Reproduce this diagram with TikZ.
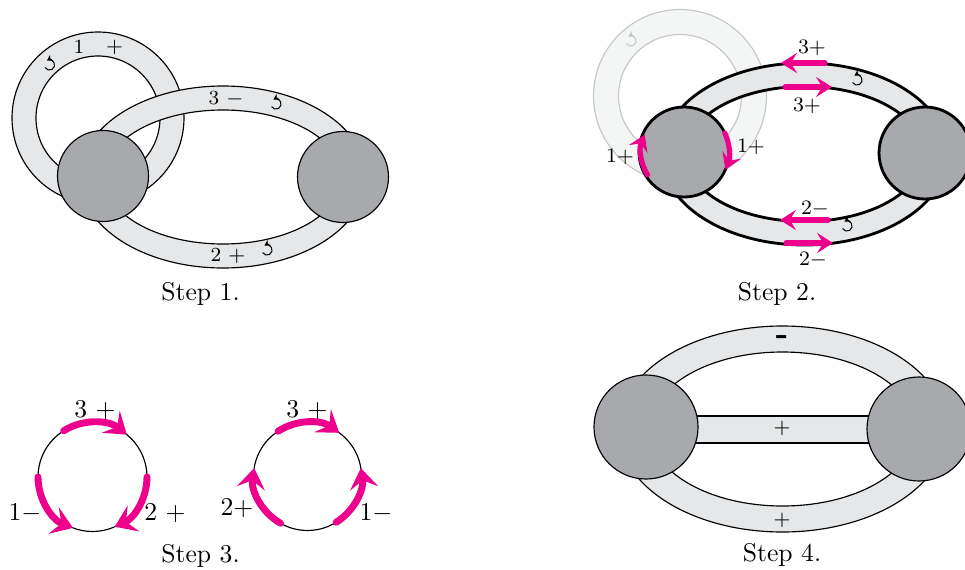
\documentclass[tikz,border=0pt]{standalone}
\usetikzlibrary{arrows.meta}
\definecolor{diskgray}{HTML}{A7A9AC}
\definecolor{bandgray}{HTML}{E6E7E8}
\definecolor{fadefill}{HTML}{F4F5F5}
\definecolor{fadeline}{HTML}{C6C8C8}
\definecolor{mag}{HTML}{EC008C}
\begin{document}
\begin{tikzpicture}[x=0.39pt,y=-0.39pt,
  thinl/.style={line width=0.45pt,draw=black},
  thickl/.style={line width=1.1pt,draw=black},
  band/.style={fill=bandgray,even odd rule},
  disk/.style={fill=diskgray},
  lab/.style={inner sep=0pt,font=\fontsize{7.8}{9}\selectfont},
  labb/.style={inner sep=0pt,font=\fontsize{8}{9.6}\selectfont},
  labc/.style={inner sep=0pt,font=\fontsize{10}{12}\selectfont},
  capt/.style={inner sep=0pt,font=\fontsize{10}{12}\selectfont},
  magA/.style={draw=mag,line width=2pt,line cap=round,-{Stealth[length=6.2pt,width=7.8pt,inset=2.4pt]}},
  magB/.style={draw=mag,line width=2.7pt,line cap=round,-{Stealth[length=8pt,width=11pt,inset=3.2pt]}},
  rotsym/.pic={\draw[line width=0.4pt,-{Stealth[length=2.2pt,width=2.6pt]}] (-150:2pt) arc[start angle=-150,end angle=120,radius=2pt];},
]
\useasboundingbox (0,0) rectangle (965,569);

% ---------- Step 1 ----------
\fill[band] (98,118) circle (86) (98,118) circle (62);
\draw[thinl] (98,118) circle (86) (98,118) circle (62);
\fill[band] (223,177) ellipse [x radius=143,y radius=91] (223,177) ellipse [x radius=119,y radius=67];
\draw[thinl] (223,177) ellipse [x radius=143,y radius=91] (223,177) ellipse [x radius=119,y radius=67];
\filldraw[disk,thinl] (103,176) circle (45.5);
\filldraw[disk,thinl] (343,177) circle (45.5);
\node[lab] (s1one) at (79,47) {1};
\node[lab] (s1plus) at (114.5,47) {$+$};
\node[lab] (s1three) at (226,99) {3 $-$};
\node[lab] (s1two) at (228,256) {2 $+$};
\pic at (49.5,65) {rotsym};
\pic at (276,104) {rotsym};
\pic at (267,250) {rotsym};
\node[capt] (cap1) at (200.5,294) {Step 1.};

% ---------- Step 2 ----------
\fill[fill=fadefill,even odd rule] (680,96) circle (86.5) (680,96) circle (61.5);
\draw[draw=fadeline,line width=0.45pt] (680,96) circle (86.5) (680,96) circle (61.5);
\pic[color=fadeline] at (631,41) {rotsym};
\fill[band] (804.5,154) ellipse [x radius=143,y radius=91] (804.5,154) ellipse [x radius=119,y radius=67.5];
\draw[thickl] (804.5,154) ellipse [x radius=143,y radius=91] (804.5,154) ellipse [x radius=119,y radius=67.5];
\filldraw[disk,thickl] (684,152) circle (45);
\filldraw[disk,thickl] (925,153) circle (46);
\draw[magA] (825,63) -- (781,63);
\draw[magA] (785,87) -- (832,87);
\draw[magA] (828,220) -- (780,220);
\draw[magA] (786,243) -- (833,243);
\draw[magA] (684,152) ++(-212:43) arc[start angle=-212,end angle=-156,radius=43];
\draw[magA] (684,152) ++(-25:45) arc[start angle=-25,end angle=23,radius=45];
\pic at (857,80) {rotsym};
\pic at (847,226) {rotsym};
\node[labb] (s2a) at (812,48) {3$+$};
\node[labb] (s2b) at (807,106) {3$+$};
\node[labb] (s2c) at (815,209) {2$-$};
\node[labb] (s2d) at (813,260) {2$-$};
\node[labb] (s2e) at (620,157) {1$+$};
\node[labb] (s2f) at (751,147) {1$+$};
\node[capt] (cap2) at (777,294) {Step 2.};

% ---------- Step 3 ----------
\draw[thinl] (92.5,477) circle (54.5);
\draw[magB] (92.5,477) ++(-122:54.5) arc[start angle=-122,end angle=-51,radius=54.5];
\draw[magB] (92.5,477) ++(-180:54.5) arc[start angle=-180,end angle=-249,radius=54.5];
\draw[magB] (92.5,477) ++(0:54.5) arc[start angle=0,end angle=66,radius=54.5];
\draw[thinl] (307.5,476.5) circle (54);
\draw[magB] (307.5,476.5) ++(-123:54) arc[start angle=-123,end angle=-54,radius=54];
\draw[magB] (307.5,476.5) ++(-240:54) arc[start angle=-240,end angle=-171,radius=54];
\draw[magB] (307.5,476.5) ++(58:54) arc[start angle=58,end angle=-9,radius=54];
\node[labc] (s3a) at (95,410) {3 $+$};
\node[labc] (s3b) at (25,513) {1$-$};
\node[labc] (s3c) at (165,513) {2 $+$};
\node[labc] (s3d) at (307,410) {3 $+$};
\node[labc] (s3e) at (237,508) {2$+$};
\node[labc] (s3f) at (376,513) {1$-$};
\node[capt] (cap3) at (200.5,555.5) {Step 3.};

% ---------- Step 4 ----------
\fill[band] (782.5,429) ellipse [x radius=164,y radius=103] (782.5,429) ellipse [x radius=133,y radius=77];
\draw[thinl] (782.5,429) ellipse [x radius=164,y radius=103] (782.5,429) ellipse [x radius=133,y radius=77];
\fill[bandgray] (690,416) rectangle (875,443);
\draw[thinl] (690,416) -- (875,416) (690,443) -- (875,443);
\filldraw[disk,thinl] (646,427) circle (52);
\filldraw[disk,thinl] (919,429) circle (52);
\node[inner sep=0pt,font=\fontsize{13}{14}\bfseries] (s4a) at (782,340) {-};
\node[labb] (s4b) at (782,428) {$+$};
\node[labb] (s4c) at (782,520) {$+$};
\node[capt] (cap4) at (782,555) {Step 4.};
\end{tikzpicture}
\end{document}
